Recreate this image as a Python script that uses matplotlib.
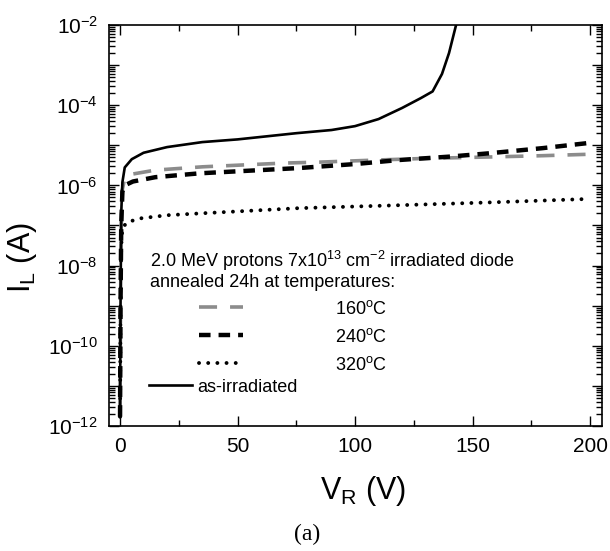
import numpy as np
import matplotlib.pyplot as plt
from matplotlib.ticker import FixedLocator, FuncFormatter, LogLocator, MultipleLocator, NullFormatter

plt.rcParams['font.family'] = ['Liberation Sans', 'DejaVu Sans']
plt.rcParams['mathtext.fontset'] = 'custom'
plt.rcParams['mathtext.rm'] = 'Liberation Sans'
plt.rcParams['mathtext.it'] = 'Liberation Sans:italic'

# Reverse voltage (V) and leakage current (A)
v_asirr = [0, 0.2, 0.5, 1, 2, 5, 10, 20, 35, 50, 75, 90, 100, 110, 120, 128, 133, 137, 140, 143]
i_asirr = [1.7e-12, 1e-9, 2e-7, 1.2e-6, 2.8e-6, 4.5e-6, 6.5e-6, 9e-6, 1.2e-5, 1.4e-5, 2e-5,
           2.4e-5, 3.0e-5, 4.5e-5, 8.5e-5, 1.5e-4, 2.2e-4, 6e-4, 2e-3, 1e-2]

v_160 = [0, 0.2, 0.5, 1, 2, 5, 15, 35, 70, 85, 110, 130, 157, 180, 201]
i_160 = [1.7e-12, 1e-9, 1e-7, 8e-7, 1.5e-6, 1.9e-6, 2.4e-6, 2.9e-6, 3.6e-6, 3.8e-6, 4.3e-6,
         4.7e-6, 5.1e-6, 5.5e-6, 6e-6]

v_240 = [0, 0.2, 0.5, 1, 2, 5.5, 15, 34, 76, 100, 119, 140, 157, 180, 200]
i_240 = [1.7e-12, 1e-9, 1e-7, 7e-7, 1e-6, 1.25e-6, 1.6e-6, 2.0e-6, 2.7e-6, 3.4e-6, 4.3e-6,
         5.2e-6, 6.3e-6, 8.5e-6, 1.15e-5]

v_320 = [0, 0.2, 0.5, 1, 3, 8.5, 20, 34, 76, 119, 160, 200]
i_320 = [1.7e-12, 1e-9, 3e-8, 8.7e-8, 1.2e-7, 1.5e-7, 1.8e-7, 2.0e-7, 2.7e-7, 3.2e-7, 3.8e-7, 4.6e-7]

fig = plt.figure(figsize=(6.10, 5.51), dpi=100)
ax = fig.add_axes([0.1787, 0.2269, 0.8082, 0.7278])

l160, = ax.plot(v_160, i_160, color='#8c8c8c', lw=2.6, dashes=(5.0, 3.6), label='160$^{\\rm o}$C')
l240, = ax.plot(v_240, i_240, color='black', lw=3.2, dashes=(2.6, 1.8), label='240$^{\\rm o}$C')
l320, = ax.plot(v_320, i_320, color='black', lw=2.8, dashes=(0.01, 2.35), dash_capstyle='round',
                label='320$^{\\rm o}$C')
lasi, = ax.plot(v_asirr, i_asirr, color='black', lw=1.9, label='as-irradiated')

ax.set_yscale('log')
ax.set_xlim(-4.7, 205.1)
ax.set_ylim(1e-12, 1e-2)

decades = [10.0 ** k for k in range(-12, -1)]
ax.yaxis.set_major_locator(FixedLocator(decades))
ax.yaxis.set_major_formatter(FuncFormatter(
    lambda y, pos: '10$^{%d}$' % round(np.log10(y)) if round(np.log10(y)) % 2 == 0 else ''))
ax.yaxis.set_minor_locator(LogLocator(base=10, subs=np.arange(2, 10), numticks=20))
ax.yaxis.set_minor_formatter(NullFormatter())
ax.xaxis.set_major_locator(MultipleLocator(50))
ax.xaxis.set_minor_locator(MultipleLocator(25))

ax.tick_params(which='both', direction='in', top=True, right=True, width=1.0)
ax.tick_params(which='major', length=7, labelsize=15, pad=8)
ax.tick_params(which='minor', length=4)
for s in ax.spines.values():
    s.set_linewidth(1.2)

ax.set_xlabel('V$_{\\rm R}$ (V)', fontsize=22)
ax.set_ylabel('I$_{\\rm L}$ (A)', fontsize=22)
ax.xaxis.set_label_coords(0.515, -0.12)
ax.yaxis.set_label_coords(-0.142, 0.42)

ax.text(0.083, 0.3965, '2.0 MeV protons 7x10$^{13}$ cm$^{-2}$ irradiated diode',
        transform=ax.transAxes, fontsize=13, va='baseline', ha='left')
ax.text(0.083, 0.3466, 'annealed 24h at temperatures:',
        transform=ax.transAxes, fontsize=13, va='baseline', ha='left')

leg1 = ax.legend(handles=[l160, l240, l320], loc='upper left', bbox_to_anchor=(0.1826, 0.315),
                 frameon=False, fontsize=13, handlelength=2.45, handletextpad=5.1,
                 labelspacing=0.55, borderaxespad=0, borderpad=0)
ax.add_artist(leg1)
ax.legend(handles=[lasi], loc='upper left', bbox_to_anchor=(0.081, 0.118), frameon=False,
          fontsize=13, handlelength=2.4, handletextpad=0.28, borderaxespad=0, borderpad=0)

fig.text(0.503, 0.03, '(a)', fontsize=17, family='Liberation Serif', ha='center', va='center')

fig.savefig('out.png', dpi=100)
